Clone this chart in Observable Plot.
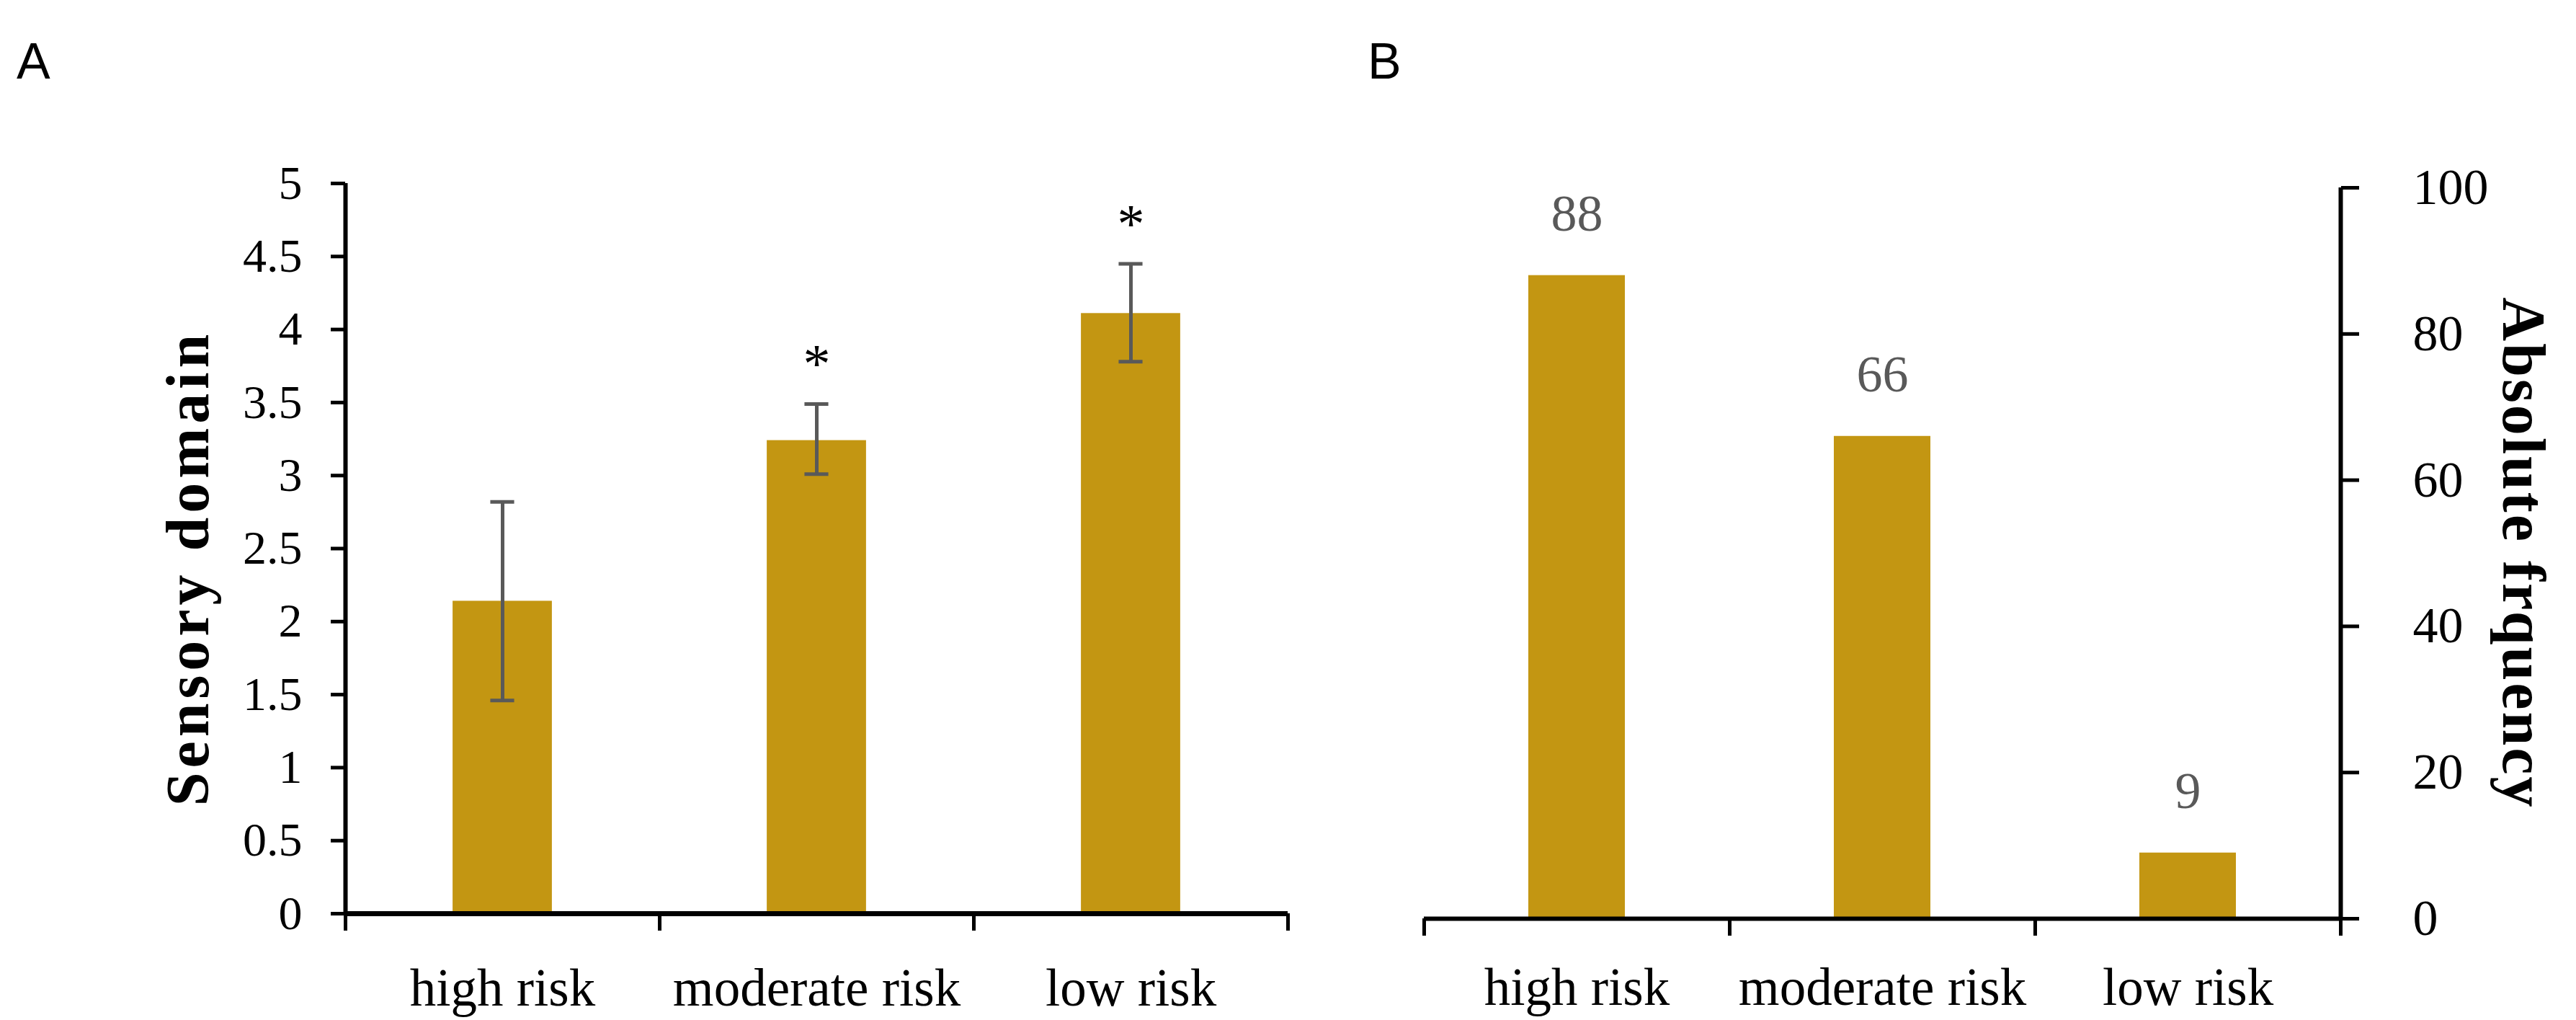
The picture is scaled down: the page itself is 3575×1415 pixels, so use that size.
<!DOCTYPE html>
<html>
<head>
<meta charset="utf-8">
<script src="https://cdn.jsdelivr.net/npm/d3@7"></script>
<script src="https://cdn.jsdelivr.net/npm/@observablehq/plot@0.6"></script>
<style>
  html, body { margin: 0; padding: 0; background: #fff; }
  #fig { position: relative; width: 3575px; height: 1415px; background: #fff; overflow: hidden; }
  .panel { position: absolute; top: 0; }
  .letter { position: absolute; font-family: "Liberation Sans", Arial, sans-serif; font-size: 70px; line-height: 70px; color: #000; }
</style>
</head>
<body>
<div id="fig">
  <div class="letter" style="left:23px; top:50px;">A</div>
  <div class="letter" style="left:1898px; top:50px;">B</div>
  <div id="pa" class="panel" style="left:0px;"></div>
  <div id="pb" class="panel" style="left:1800px;"></div>
</div>
<script>
// ---- data ----
const categories = ["high risk", "moderate risk", "low risk"];
const sensoryMean = [2.14, 3.24, 4.11];
const sensoryLower = [1.46, 3.01, 3.78];
const sensoryUpper = [2.82, 3.49, 4.45];
const significant = [false, true, true];
const frequency = [88, 66, 9];
const ticksA = [0, 0.5, 1, 1.5, 2, 2.5, 3, 3.5, 4, 4.5, 5];
const ticksB = [0, 20, 40, 60, 80, 100];
const titleA = "Sensory domain";
const titleB = "Absolute frquency";

// ---- tables ----
const sensory = categories.map((c, i) => ({cat: c, i, mean: sensoryMean[i], lo: sensoryLower[i], hi: sensoryUpper[i], sig: significant[i]}));
const freq = categories.map((c, i) => ({cat: c, i, value: frequency[i]}));

const barColor = "#C39612";
const errColor = "#595959";
const font = "'Liberation Serif', 'Times New Roman', serif";
const xDomain = [-0.5, categories.length - 0.5];
const boundaries = d3.range(categories.length + 1).map(i => i - 0.5);
const centers = d3.range(categories.length);
const halfBar = 0.158;
const halfCap = 0.038;

const chartA = Plot.plot({
  width: 1800, height: 1415,
  marginLeft: 479, marginRight: 13, marginTop: 254, marginBottom: 148,
  style: {fontFamily: font, fontSize: "66px", background: "transparent", overflow: "visible"},
  x: {domain: xDomain},
  y: {domain: [0, 5]},
  marks: [
    Plot.rectY(sensory, {x1: d => d.i - halfBar, x2: d => d.i + halfBar, y: "mean", fill: barColor}),
    Plot.ruleX(sensory, {x: "i", y1: "lo", y2: "hi", stroke: errColor, strokeWidth: 5}),
    Plot.ruleY(sensory, {y: "hi", x1: d => d.i - halfCap, x2: d => d.i + halfCap, stroke: errColor, strokeWidth: 5}),
    Plot.ruleY(sensory, {y: "lo", x1: d => d.i - halfCap, x2: d => d.i + halfCap, stroke: errColor, strokeWidth: 5}),
    Plot.text(sensory.filter(d => d.sig), {x: "i", y: "hi", text: () => "*", lineAnchor: "bottom", dy: -30, fontSize: 76, fill: "#000"}),
    Plot.axisY({ticks: ticksA, tickFormat: d => String(d), tickSize: 20, tickPadding: 40, strokeWidth: 5, fontSize: 66, label: null}),
    Plot.axisX({ticks: boundaries, tickSize: 24, tickFormat: () => "", strokeWidth: 5, label: null}),
    Plot.axisX({ticks: centers, tickSize: 0, tickPadding: 76, tickFormat: i => categories[i], fontSize: 73, label: null}),
    Plot.ruleX([xDomain[0]], {stroke: "#000", strokeWidth: 6}),
    Plot.ruleY([0], {stroke: "#000", strokeWidth: 7}),
    Plot.text([titleA], {frameAnchor: "left", textAnchor: "middle", dx: -217, dy: 27, rotate: -90, fontWeight: "bold", fontSize: 84, fill: "#000"})
  ]
});
document.getElementById("pa").appendChild(chartA);

const chartB = Plot.plot({
  width: 1775, height: 1415,
  marginLeft: 176, marginRight: 327, marginTop: 260, marginBottom: 141,
  style: {fontFamily: font, fontSize: "66px", background: "transparent", overflow: "visible"},
  x: {domain: xDomain},
  y: {domain: [0, 100]},
  marks: [
    Plot.rectY(freq, {x1: d => d.i - halfBar, x2: d => d.i + halfBar, y: "value", fill: barColor}),
    Plot.text(freq, {x: "i", y: "value", text: d => String(d.value), dy: -85, fill: "#595959", fontSize: 72}),
    Plot.axisY({anchor: "right", ticks: ticksB, tickFormat: d => String(d), tickSize: 25, tickPadding: 75, strokeWidth: 5, fontSize: 70, label: null}),
    Plot.axisX({ticks: boundaries, tickSize: 24, tickFormat: () => "", strokeWidth: 5, label: null}),
    Plot.axisX({ticks: centers, tickSize: 0, tickPadding: 68, tickFormat: i => categories[i], fontSize: 73, label: null}),
    Plot.ruleX([xDomain[1]], {stroke: "#000", strokeWidth: 6}),
    Plot.ruleY([0], {stroke: "#000", strokeWidth: 6}),
    Plot.text([titleB], {frameAnchor: "right", textAnchor: "middle", dx: 252, dy: 0, rotate: 90, fontWeight: "bold", fontSize: 84, fill: "#000"})
  ]
});
document.getElementById("pb").appendChild(chartB);

// letter spacing for the axis titles
d3.selectAll("#fig svg text").each(function() {
  const t = this.textContent;
  if (t === titleA) this.setAttribute("letter-spacing", "6");
  if (t === titleB) this.setAttribute("letter-spacing", "3");
});
</script>
</body>
</html>
